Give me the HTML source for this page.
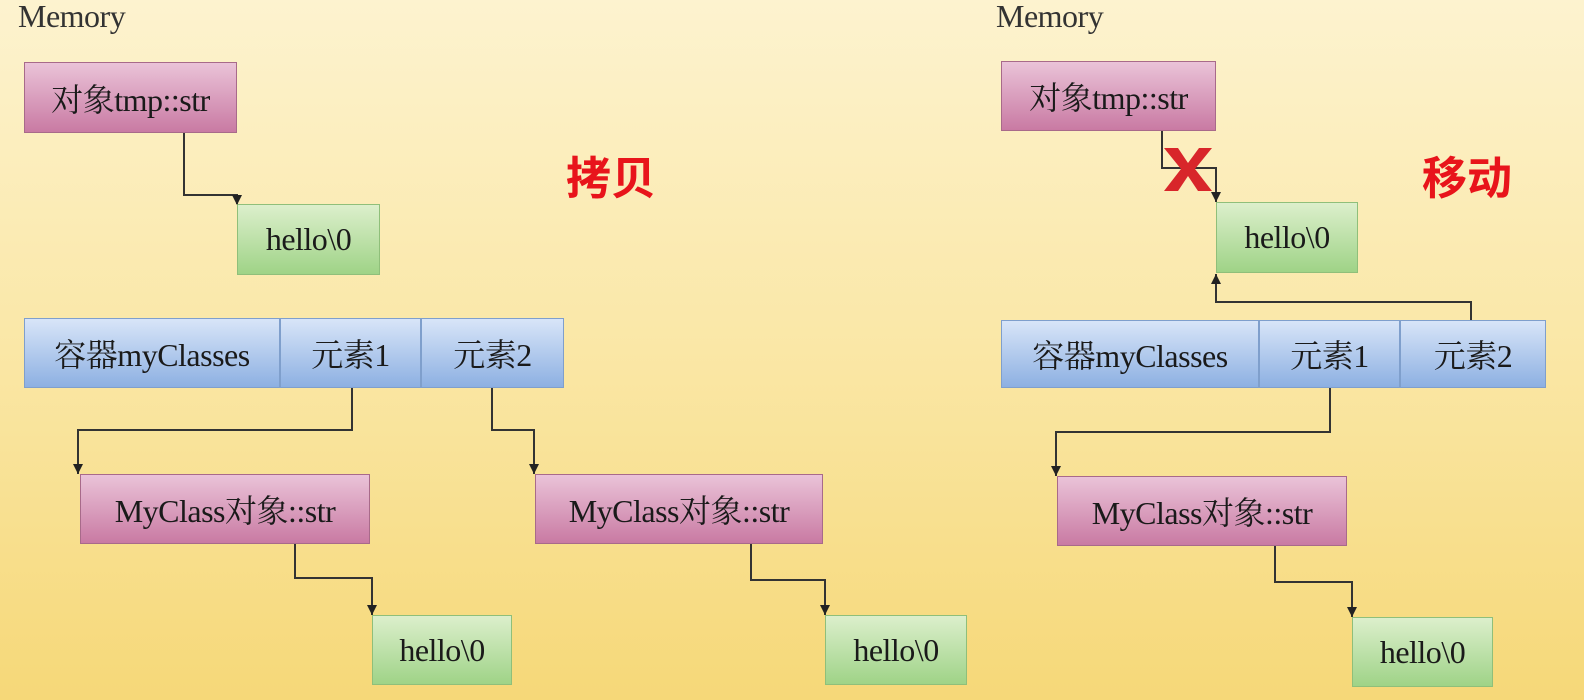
<!DOCTYPE html>
<html><head><meta charset="utf-8"><style>
body{margin:0;width:1584px;height:700px;overflow:hidden;background:linear-gradient(180deg,#fdf3cf 0%,#fae7a6 50%,#f6d878 100%);font-family:"Liberation Serif","Noto Serif CJK SC","Noto Sans CJK SC",serif;position:relative}
.b{position:absolute;box-sizing:border-box;display:flex;align-items:center;justify-content:center;font-size:32px;color:#1a1a1a;letter-spacing:-0.5px}
.p{background:linear-gradient(180deg,#eac3d8,#c97aa3);border:1px solid #a86a8a}
.g{background:linear-gradient(180deg,#dcefcc,#9fd387);border:1px solid #8fbf7a}
.u{background:linear-gradient(180deg,#d8e5f8,#8db0e2);border:1px solid #7f9fcc}
.m{position:absolute;font-size:32px;color:#333;letter-spacing:-0.5px}
.r{position:absolute;font-family:"Liberation Sans","Noto Sans CJK SC",sans-serif;font-weight:bold;color:#e8141b;font-size:45px}
svg{position:absolute;left:0;top:0}
</style></head><body>
<div class="m" style="left:18px;top:-2px">Memory</div>
<div class="m" style="left:996px;top:-2px">Memory</div>
<div class="r" style="left:566px;top:142px">拷贝</div>
<div class="r" style="left:1422px;top:142px">移动</div>

<div class="b p" style="left:24px;top:62px;width:213px;height:71px">对象tmp::str</div>
<div class="b g" style="left:237px;top:204px;width:143px;height:71px">hello\0</div>
<div class="b u" style="left:24px;top:318px;width:256px;height:70px">容器myClasses</div>
<div class="b u" style="left:280px;top:318px;width:141px;height:70px">元素1</div>
<div class="b u" style="left:421px;top:318px;width:143px;height:70px">元素2</div>
<div class="b p" style="left:80px;top:474px;width:290px;height:70px">MyClass对象::str</div>
<div class="b g" style="left:372px;top:615px;width:140px;height:70px">hello\0</div>
<div class="b p" style="left:535px;top:474px;width:288px;height:70px">MyClass对象::str</div>
<div class="b g" style="left:825px;top:615px;width:142px;height:70px">hello\0</div>

<div class="b p" style="left:1001px;top:61px;width:215px;height:70px">对象tmp::str</div>
<div class="b g" style="left:1216px;top:202px;width:142px;height:71px">hello\0</div>
<div class="b u" style="left:1001px;top:320px;width:258px;height:68px">容器myClasses</div>
<div class="b u" style="left:1259px;top:320px;width:141px;height:68px">元素1</div>
<div class="b u" style="left:1400px;top:320px;width:146px;height:68px">元素2</div>
<div class="b p" style="left:1057px;top:476px;width:290px;height:70px">MyClass对象::str</div>
<div class="b g" style="left:1352px;top:617px;width:141px;height:70px">hello\0</div>

<svg width="1584" height="700">
<g fill="none" stroke="#333" stroke-width="2">
<path d="M184,133 V195 H237 V204" />
<path d="M352,388 V430 H78 V474" />
<path d="M295,544 V578 H372 V615" />
<path d="M492,388 V430 H534 V474" />
<path d="M751,544 V580 H825 V615" />
<path d="M1162,131 V168 H1216 V202" />
<path d="M1471,320 V302 H1216 V274" />
<path d="M1330,388 V432 H1056 V476" />
<path d="M1275,546 V582 H1352 V617" />
</g>
<g fill="#222">
<path d="M232,195 h10 l-5,10z"/>
<path d="M73,464 h10 l-5,10z"/>
<path d="M367,605 h10 l-5,10z"/>
<path d="M529,464 h10 l-5,10z"/>
<path d="M820,605 h10 l-5,10z"/>
<path d="M1211,192 h10 l-5,10z"/>
<path d="M1211,284 h10 l-5,-10z"/>
<path d="M1051,466 h10 l-5,10z"/>
<path d="M1347,607 h10 l-5,10z"/>
</g>
<g fill="#d8262a">
<path d="M1164,148 L1178,148 L1188,163 L1199,148 L1212,148 L1195,169 L1212,191 L1198,191 L1188,176 L1178,191 L1164,191 L1181,169 Z"/>
</g>
</svg>
</body></html>
